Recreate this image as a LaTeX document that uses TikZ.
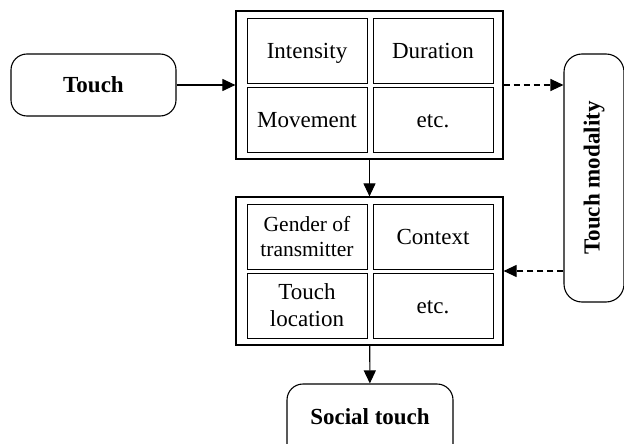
\documentclass[tikz,border=0pt]{standalone}
\usepackage{fontspec}
\setmainfont{Liberation Serif}
\usepackage{tikz}
\usetikzlibrary{arrows.meta, calc}

\begin{document}
\begin{tikzpicture}[x=1pt, y=-1pt,
  cell/.style={draw, line width=0.9pt, minimum width=120pt, minimum height=65pt, align=center, inner sep=0pt, font=\fontsize{23}{25}\selectfont},
  word/.style={cell, text height=15.2pt, text depth=0pt},
  group/.style={draw, line width=1.2pt, minimum width=267pt, minimum height=148pt, inner sep=0pt},
  term/.style={draw, line width=1.1pt, rounded corners=16pt, inner sep=0pt, font=\fontsize{23}{25}\selectfont\bfseries},
  link/.style={line width=1.1pt, -{Triangle[length=13pt, width=12pt]}},
  dlink/.style={link, dash pattern=on 6pt off 4pt}]
 \useasboundingbox (0,0) rectangle (624,444);

 \node[term, minimum width=165pt, minimum height=62pt] (touch) at (93.5,85) {Touch};

 \node[group] (feat) at (369.5,85) {};
 \node[word] (intens) at (307,50.5) {Intensity};
 \node[word] (dur) at (433,50.5) {Duration};
 \node[word] (move) at (307,119.5) {Movement};
 \node[word] (etc1) at (433,119.5) {etc.};

 \node[group] (ctx) at (369.5,271) {};
 \node[cell, font=\fontsize{21.5}{25}\selectfont] (gender) at (307,237) {Gender of\\transmitter};
 \node[word] (context) at (433,237) {Context};
 \node[cell, font=\fontsize{23}{27}\selectfont] (loc) at (307,305.5) {Touch\\location};
 \node[word] (etc2) at (433,305.5) {etc.};

 \node[term, minimum width=60pt, minimum height=248pt, rounded corners=18pt] (modal) at (594,178) {};
 \node[font=\fontsize{23}{25}\selectfont\bfseries, rotate=90] (modtxt) at (594,178) {Touch modality};

 \node[term, minimum width=166pt, minimum height=80pt] (social) at (370,424) {};
 \node[font=\fontsize{23}{25}\selectfont\bfseries] (soctxt) at (370,417) {Social touch};

 \draw[link] (touch) -- (feat);
 \draw[link] (feat) -- (ctx);
 \draw[link] (ctx) -- (social);
 \draw[dlink] (feat.east) -- (feat.east -| modal.west);
 \draw[dlink] (ctx.east -| modal.west) -- (ctx.east);

\end{tikzpicture}
\end{document}
